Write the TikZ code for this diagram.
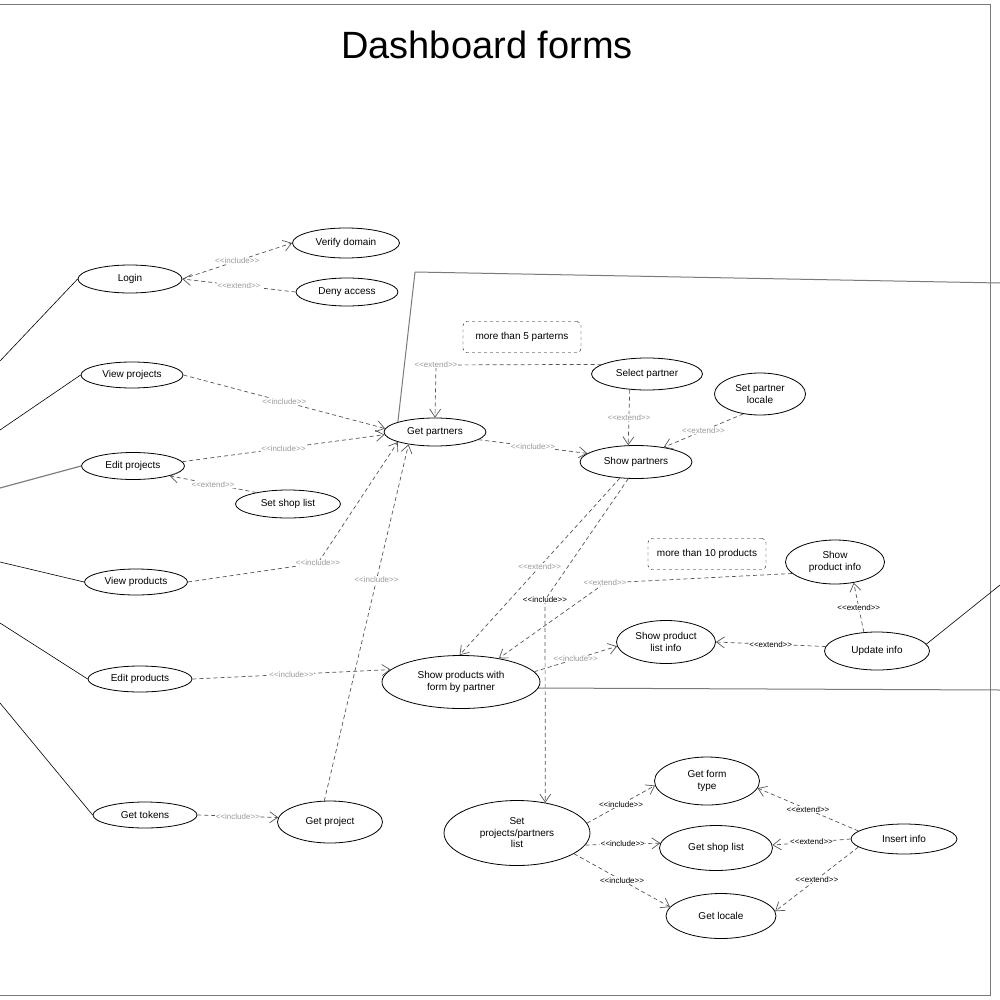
\documentclass[tikz,border=0pt]{standalone}
\usepackage{fontspec}
\setmainfont{Liberation Sans}[Ligatures=TeXOff]
\usetikzlibrary{shapes.geometric,arrows.meta}
\definecolor{linegray}{HTML}{555555}
\definecolor{labelgray}{HTML}{9A9A9A}
\definecolor{framegray}{HTML}{7A7A7A}
\begin{document}
\begin{tikzpicture}[x=1pt,y=-1pt,
uc/.style={draw,ellipse,inner sep=0pt,align=center,line width=0.8pt,font=\fontsize{10}{11.5}\selectfont},
notebox/.style={draw,dashed,rounded corners=4pt,inner sep=0pt,minimum width=118pt,minimum height=31pt,font=\fontsize{10}{12}\selectfont},
dep/.style={draw=linegray,dash pattern=on 4pt off 3pt,line width=0.7pt,-{Straight Barb[length=8pt,width=11pt]}},
lbl/.style={fill=white,inner sep=0.5pt,text=labelgray,font=\fontsize{8}{9}\selectfont},
actor/.style={line width=0.6pt},
frame/.style={draw=framegray,line width=1pt}]
\useasboundingbox (0,0) rectangle (1000,1000);
% frames
\draw[frame] (0,5)--(990,5)--(990,995)--(0,995);
\draw[frame] (538,688)--(1000,690);
\draw[frame] (1000,283)--(415,272);
\node[font=\fontsize{38}{44}\selectfont] (title) at (487,45) {Dashboard forms};
% use cases
\node[uc,minimum width=104pt,minimum height=28pt] (login) at (130,279) {Login};
\node[uc,minimum width=107pt,minimum height=30pt] (verify) at (346,243) {Verify domain};
\node[uc,minimum width=102pt,minimum height=28pt] (deny) at (347,292) {Deny access};
\node[uc,minimum width=102pt,minimum height=26pt] (vproj) at (132,375) {View projects};
\node[uc,minimum width=103pt,minimum height=27pt] (eproj) at (133,466) {Edit projects};
\node[uc,minimum width=105pt,minimum height=28pt] (shopA) at (288,504) {Set shop list};
\node[uc,minimum width=103pt,minimum height=26pt] (vprod) at (136,582) {View products};
\node[uc,minimum width=104pt,minimum height=26pt] (eprod) at (140,679) {Edit products};
\node[uc,minimum width=104pt,minimum height=26pt] (gtok) at (145,815) {Get tokens};
\node[uc,minimum width=105pt,minimum height=42pt] (gproj) at (330,822) {Get project};
\node[uc,minimum width=102pt,minimum height=28pt] (gpart) at (435,432) {Get partners};
\node[uc,minimum width=112pt,minimum height=33pt] (spart) at (636,462) {Show partners};
\node[uc,minimum width=111pt,minimum height=32pt] (selp) at (647,374) {Select partner};
\node[uc,minimum width=91pt,minimum height=42pt] (sploc) at (760,394) {Set partner\\locale};
\node[notebox] (note5) at (522,337) {more than 5 parterns};
\node[notebox] (note10) at (707,554) {more than 10 products};
\node[uc,minimum width=99pt,minimum height=44pt] (spinfo) at (835,562) {Show\\product info};
\node[uc,minimum width=158pt,minimum height=53pt] (spf) at (461,682) {Show products with\\form by partner};
\node[uc,minimum width=99pt,minimum height=43pt] (splist) at (666,642) {Show product\\list info};
\node[uc,minimum width=105pt,minimum height=38pt] (upd) at (877,651) {Update info};
\node[uc,minimum width=146pt,minimum height=65pt] (setpl) at (517,833) {Set\\projects/partners\\list};
\node[uc,minimum width=105pt,minimum height=48pt] (gform) at (707,781) {Get form\\type};
\node[uc,minimum width=113pt,minimum height=45pt] (shopB) at (716,848) {Get shop list};
\node[uc,minimum width=110pt,minimum height=45pt] (gloc) at (721,916) {Get locale};
\node[uc,minimum width=106pt,minimum height=30pt] (ins) at (904,839) {Insert info};
% actor ends and bends
\coordinate (a1) at (0,361); \coordinate (a2) at (0,430); \coordinate (a3) at (0,488);
\coordinate (a4) at (0,562); \coordinate (a5) at (0,623); \coordinate (a6) at (0,703);
\coordinate (a7) at (1000,585);
\coordinate (vpbend) at (318,563); \coordinate (selbend) at (436,365);
\coordinate (incbend) at (545,600); \coordinate (pibend) at (605,583);
\draw[frame] (415,272)--(gpart.165);
% actor lines
\draw[actor](a1)--(login.west);\draw[actor](a2)--(vproj.west);\draw[actor,draw=gray,line width=1.2pt](a3)--(eproj.west);
\draw[actor](a4)--(vprod.west);\draw[actor](a5)--(eprod.west);\draw[actor](a6)--(gtok.west);\draw[actor](upd.8)--(a7);
% dependencies
\draw[dep](login.east)--node[lbl]{<<include>>}(verify.west);
\draw[dep](deny.west)--node[lbl]{<<extend>>}(login.east);
\draw[dep](vproj.east)--node[lbl]{<<include>>}(gpart.176);
\draw[dep](eproj.5)--node[lbl]{<<include>>}(gpart.183);
\draw[dep](shopA.160)--node[lbl]{<<extend>>}(eproj.-15);
\draw[dep](vprod.east)--(vpbend)node[lbl]{<<include>>}--(gpart.195);
\draw[dep](gproj.105)--node[lbl,pos=0.62]{<<include>>}(gpart.205);
\draw[dep](gtok.east)--node[lbl]{<<include>>}(gproj.175);
\draw[dep](eprod.east)--node[lbl]{<<include>>}(spf.170);
\draw[dep](gpart.-10)--node[lbl]{<<include>>}(spart.170);
\draw[dep](selp.168)--(selbend)node[lbl]{<<extend>>}--(gpart.north);
\draw[dep](selp.222)--node[lbl]{<<extend>>}(spart.115);
\draw[dep](sploc.230)--node[lbl]{<<extend>>}(spart.28);
\draw[dep](spart.225)--node[lbl]{<<extend>>}(spf.93);
\draw[dep](spart.245)--(incbend)node[lbl,text=black]{<<include>>}--(setpl.47);
\draw[dep](spinfo.195)--(pibend)node[lbl]{<<extend>>}--(spf.32);
\draw[dep](spf.8)--node[lbl]{<<include>>}(splist.185);
\draw[dep](upd.175)--node[lbl,text=black]{<<extend>>}(splist.east);
\draw[dep](upd.125)--node[lbl,text=black]{<<extend>>}(spinfo.-48);
\draw[dep](setpl.8)--node[lbl,text=black]{<<include>>}(gform.185);
\draw[dep](setpl.-10)--node[lbl,text=black]{<<include>>}(shopB.175);
\draw[dep](setpl.-20)--node[lbl,text=black]{<<include>>}(gloc.170);
\draw[dep](ins.170)--node[lbl,text=black]{<<extend>>}(gform.-8);
\draw[dep](ins.180)--node[lbl,text=black]{<<extend>>}(shopB.3);
\draw[dep](ins.190)--node[lbl,text=black]{<<extend>>}(gloc.5);
\end{tikzpicture}
\end{document}
